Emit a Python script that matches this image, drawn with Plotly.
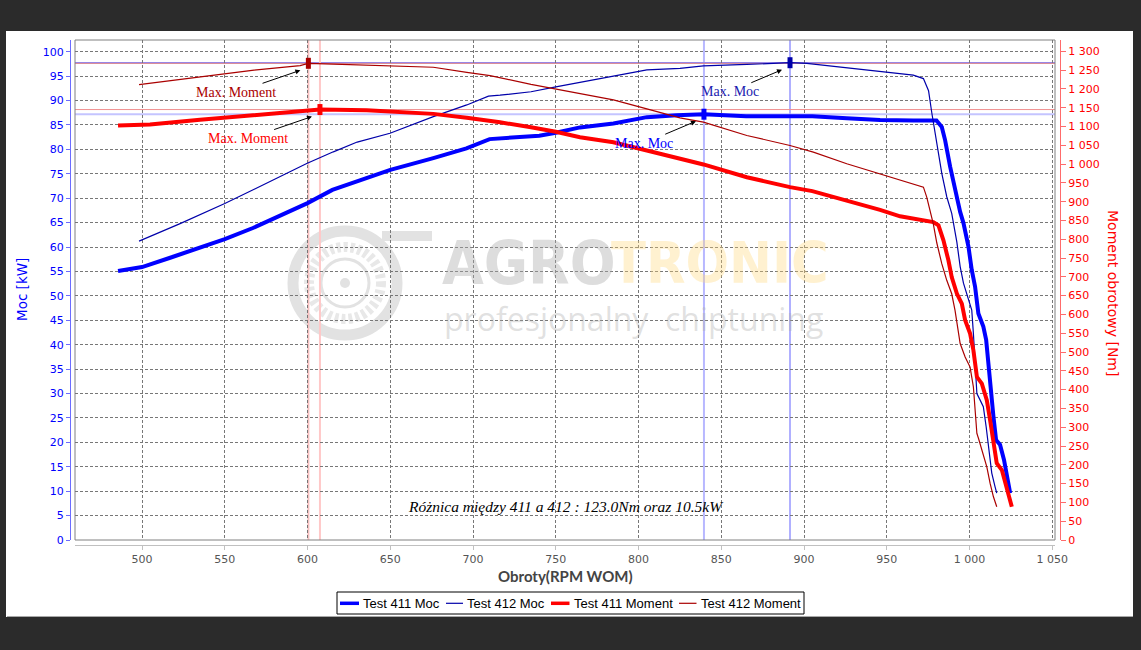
import numpy as np
import plotly.graph_objects as go

# ---------------- data ----------------
rpm_411_moc = [485.5, 500, 517, 535, 550, 567, 585, 600, 615, 633, 650, 676, 696, 710, 720, 740, 750,
               764.6, 784.8, 805, 823, 839.5, 865, 891.5, 905, 925.8, 945.9, 966, 980, 983.2, 985.2,
               988.2, 991.2, 994.3, 996.3, 999.3, 1001.3, 1003.3, 1005.3, 1008.3, 1010, 1011.4, 1012.8,
               1014.4, 1016, 1018.4, 1020.8, 1022.5, 1024.5]
kw_411 = [55.1, 55.9, 57.8, 59.8, 61.6, 63.9, 66.8, 69.0, 71.7, 73.9, 75.8, 78.2, 80.2, 82.1, 82.3, 82.8, 83.4,
          84.5, 85.3, 86.6, 87.0, 87.2, 86.8, 86.7, 86.8, 86.4, 86.0, 85.9, 85.9, 84.6, 81.9,
          76.5, 71.5, 67.2, 64.9, 60.1, 55.3, 51.9, 46.4, 43.7, 41.0, 35.5, 30.0,
          25.3, 20.5, 19.5, 16.4, 13.0, 9.6]

rpm_412_moc = [498.2, 523, 550, 567, 599.5, 615.6, 630, 649.8, 676, 696.2, 709.3, 716.3, 735, 750, 764.6,
               784.8, 800.9, 805, 825, 839.2, 865.4, 891.5, 901.6, 915.7, 941.9, 966, 972.1, 975.2, 977.2,
               979.2, 981.2, 983.2, 986.2, 989.2, 992.3, 994.3, 996.3, 999.3, 1001.3, 1002.3, 1003.3,
               1004.4, 1006.3, 1008.3, 1010, 1012, 1013.4, 1015.4, 1016.4]
kw_412 = [61.2, 64.8, 68.9, 71.7, 77.1, 79.5, 81.5, 83.3, 86.7, 89.1, 90.9, 91.1, 91.8, 92.8, 93.7,
          95.0, 95.9, 96.3, 96.6, 97.1, 97.4, 97.75, 97.6, 97.1, 96.1, 95.2, 94.5, 92.0, 87.4,
          83.3, 79.2, 75.1, 70.3, 66.9, 61.0, 56.0, 52.6, 49.1, 47.1, 42.3, 35.5,
          30.0, 28.7, 27.3, 23.2, 17.8, 13.7, 10.9, 9.6]

rpm_411_mom = [485.5, 504.8, 535, 565.3, 595.5, 607.5, 635.8, 650, 676, 696.2, 710.3, 716.3, 735, 750,
               764.6, 784.8, 805, 825, 839.2, 865.4, 891.5, 905, 925.8, 945.9, 958, 978.1, 981.2, 984.2,
               987.2, 989.2, 992.3, 995.3, 997.3, 1000.3, 1002.3, 1004.4, 1007.4, 1010.4, 1012.4, 1014.4,
               1016.4, 1019.5, 1021.5, 1023.5, 1025.5]
nm_411 = [1102.5, 1105, 1117.7, 1129, 1138, 1145, 1143, 1139.7, 1133.5, 1123, 1115.8, 1111, 1098, 1086,
          1071.5, 1058, 1036, 1014, 999, 965, 938.6, 928, 903, 878, 861, 845.7, 836.9, 797,
          744, 699.5, 655.4, 628.9, 584.5, 549, 504.8, 434, 416, 372, 318.8, 257,
          204, 186, 150.6, 124, 88.5]

rpm_412_mom = [498.2, 535, 565.3, 595.5, 600.5, 615.6, 650, 676, 696.2, 710.3, 735, 750, 764.6, 784.8,
               805, 825, 839.2, 865.4, 891.5, 905.6, 925.8, 945.9, 966, 972.1, 974.1, 976.1, 978.1,
               980.2, 983.2, 986.2, 989.2, 991.2, 994.3, 997.3, 1000.3, 1002.3, 1003.3, 1004.4, 1005.4,
               1008.3, 1010.4, 1012.4, 1014.4, 1016.4]
nm_412 = [1211.5, 1232.7, 1248.7, 1262, 1268, 1266, 1262, 1257.5, 1244, 1235.4, 1212, 1200, 1186.7, 1170.8,
          1147, 1123, 1111.5, 1076, 1049.4, 1031.6, 1000.8, 974, 947.7, 938.6, 912, 875, 840,
          790, 735, 690.8, 655, 611, 522.6, 487, 460, 407, 336.6, 283.5, 270,
          230, 194.7, 150.6, 115, 88.5]

series_names = ["Test 411 Moc", "Test 412 Moc", "Test 411 Moment", "Test 412 Moment"]
diff_label = "Różnica między 411 a 412 : 123.0Nm oraz 10.5kW"
x_title = "Obroty(RPM WOM)"
y_title = "Moc [kW]"
y2_title = "Moment obrotowy [Nm]"
max_label_moc = "Max. Moc"
max_label_mom = "Max. Moment"
wm_1, wm_2, wm_3 = "AGRO", "TRONIC", "profesjonalny  chiptuning"

# ---------------- geometry helpers (page pixels -> paper) ----------------
W, H = 1141, 650
PL, PR, PT, PB = 70, 1060, 40, 545      # paper box in page pixels


def px(x):
    return (x - PL) / (PR - PL)


def py(y):
    return (PB - y) / (PB - PT)


styles = [("#0000FF", 4, "y"), ("#0000AA", 1.2, "y"), ("#FF0000", 4, "y2"), ("#AA0000", 1.2, "y2")]
xs = [rpm_411_moc, rpm_412_moc, rpm_411_mom, rpm_412_mom]
ys = [kw_411, kw_412, nm_411, nm_412]

fig = go.Figure()
for name, xv, yv, (col, wd, ya) in zip(series_names, xs, ys, styles):
    fig.add_trace(go.Scatter(x=xv, y=yv, name=name, mode="lines", line=dict(color=col, width=wd),
                             yaxis=ya, showlegend=False))

shapes = []
annotations = []
# white panel + bottom edge
shapes.append(dict(type="rect", xref="paper", yref="paper", x0=px(6), x1=px(1133), y0=py(617), y1=py(31),
                   fillcolor="white", line=dict(width=0), layer="below"))
shapes.append(dict(type="line", xref="paper", yref="paper", x0=px(7), x1=px(1133), y0=py(616.5), y1=py(616.5),
                   line=dict(color="#a8a8a8", width=1), layer="below"))

# watermark gear (decoration)
gc = "#e2e2e2"
cx, cy, r = 345, 283, 52
shapes.append(dict(type="circle", xref="paper", yref="paper", x0=px(cx - r), x1=px(cx + r),
                   y0=py(cy + r), y1=py(cy - r), line=dict(color=gc, width=11), layer="below"))
r2 = 36
shapes.append(dict(type="circle", xref="paper", yref="paper", x0=px(cx - r2), x1=px(cx + r2),
                   y0=py(cy + r2), y1=py(cy - r2), line=dict(color="#e8e8e8", width=10, dash="4px,3px"),
                   layer="below"))
r3 = 24
shapes.append(dict(type="circle", xref="paper", yref="paper", x0=px(cx - r3), x1=px(cx + r3),
                   y0=py(cy + r3), y1=py(cy - r3), line=dict(color=gc, width=3), layer="below"))
r4 = 5
shapes.append(dict(type="circle", xref="paper", yref="paper", x0=px(cx - r4), x1=px(cx + r4),
                   y0=py(cy + r4), y1=py(cy - r4), fillcolor=gc, line=dict(width=0), layer="below"))
shapes.append(dict(type="rect", xref="paper", yref="paper", x0=px(382), x1=px(432), y0=py(241), y1=py(231),
                   fillcolor=gc, line=dict(width=0), layer="below"))

# max value guides
i411m = int(np.argmax(kw_411)); i412m = int(np.argmax(kw_412))
i411t = int(np.argmax(nm_411)); i412t = int(np.argmax(nm_412))
maxes = [
    # (x, y, yref, hline colour, hline width, vline colour, marker colour, text colour, label)
    (rpm_411_moc[i411m], kw_411[i411m], "y", "#c4c4ff", 2, "#b8b8ff", "#0000FF", "#0000FF", max_label_moc),
    (rpm_412_moc[i412m], kw_412[i412m], "y", "#8888ff", 1.5, "#b0b0ff", "#0000AA", "#1a1ab0", max_label_moc),
    (rpm_411_mom[i411t], nm_411[i411t], "y2", "#f09090", 1, "#ffc8c8", "#FF0000", "#FF0000", max_label_mom),
    (rpm_412_mom[i412t], nm_412[i412t], "y2", "#e08080", 1, "#f6c0c0", "#AA0000", "#AA0000", max_label_mom),
]
for (mx, my, yr, hc, hw, vc, mc, tc, lab) in maxes:
    shapes.append(dict(type="line", xref="paper", yref=yr, x0=px(75), x1=px(1055), y0=my, y1=my,
                       line=dict(color=hc, width=hw), layer="below"))
    shapes.append(dict(type="line", xref="x", yref="paper", x0=mx, x1=mx, y0=py(540), y1=1,
                       line=dict(color=vc, width=2), layer="below"))
for (mx, my, yr, hc, hw, vc, mc, tc, lab) in maxes:
    shapes.append(dict(type="rect", xref="x", yref=yr, xsizemode="pixel", ysizemode="pixel",
                       xanchor=mx, yanchor=my, x0=-2.5, x1=2.5, y0=-5.5, y1=5.5,
                       fillcolor=mc, line=dict(width=0), layer="above"))
    off = -52 if lab == max_label_moc else -64
    annotations.append(dict(x=mx, y=my, xref="x", yref=yr, xshift=-8, yshift=-7, text=lab,
                            showarrow=True, ax=off, ay=22, arrowhead=2, arrowsize=1, arrowwidth=1,
                            arrowcolor="black", standoff=0,
                            font=dict(family="Liberation Serif", size=14, color=tc)))

# plot border
shapes.append(dict(type="rect", xref="paper", yref="paper", x0=px(75), x1=px(1055), y0=py(540), y1=1,
                   line=dict(color="#808080", width=1), layer="below"))

# watermark texts
wm_font = "DejaVu Sans Condensed, Liberation Sans Narrow, Roboto"
annotations.append(dict(xref="paper", yref="paper", x=px(440), y=py(263), xanchor="left", yanchor="middle",
                        text="<b>" + wm_1 + "</b>", showarrow=False,
                        font=dict(family=wm_font, size=60, color="rgba(170,170,170,0.40)")))
annotations.append(dict(xref="paper", yref="paper", x=px(609), y=py(263), xanchor="left", yanchor="middle",
                        text="<b>" + wm_2 + "</b>", showarrow=False,
                        font=dict(family=wm_font, size=57, color="rgba(255,215,120,0.35)")))
annotations.append(dict(xref="paper", yref="paper", x=px(633), y=py(318), xanchor="center", yanchor="middle",
                        text=wm_3, showarrow=False,
                        font=dict(family="Open Sans", size=32, color="rgba(170,170,170,0.36)")))

# texts
annotations.append(dict(xref="paper", yref="paper", x=px(566), y=py(506), xanchor="center", yanchor="middle",
                        text="<i>" + diff_label + "</i>",
                        showarrow=False, font=dict(family="Liberation Serif", size=15.5, color="black")))
annotations.append(dict(xref="paper", yref="paper", x=px(565), y=py(576), xanchor="center", yanchor="middle",
                        text="<b>" + x_title + "</b>",
                        showarrow=False, font=dict(family="Lato", size=15, color="#444444")))
annotations.append(dict(xref="paper", yref="paper", x=px(22), y=py(290), xanchor="center", yanchor="middle",
                        text=y_title, textangle=-90,
                        showarrow=False, font=dict(family="DejaVu Sans", size=13.5, color="#0000FF")))
annotations.append(dict(xref="paper", yref="paper", x=px(1113), y=py(293), xanchor="center", yanchor="middle",
                        text=y2_title, textangle=90,
                        showarrow=False, font=dict(family="DejaVu Sans", size=14, color="#FF0000")))

# legend box (entries taken from the trace names / styles)
shapes.append(dict(type="rect", xref="paper", yref="paper", x0=px(337), x1=px(804), y0=py(614), y1=py(592),
                   fillcolor="white", line=dict(color="black", width=1), layer="above"))
leg_sample_x = [340, 446, 551, 679]
leg_sample_w = [19, 17, 18.5, 17.5]
leg_y = 603.3
for name, (col, wd, ya), sx, sw in zip(series_names, styles, leg_sample_x, leg_sample_w):
    shapes.append(dict(type="line", xref="paper", yref="paper", x0=px(sx), x1=px(sx + sw),
                       y0=py(leg_y), y1=py(leg_y), line=dict(color=col, width=min(wd, 3.5)), layer="above"))
    annotations.append(dict(xref="paper", yref="paper", x=px(sx + sw + 2), y=py(leg_y), xanchor="left",
                            yanchor="middle", text=name, showarrow=False,
                            font=dict(family="Liberation Sans", size=13, color="black")))

grid = dict(showgrid=True, gridcolor="#777777", gridwidth=1, griddash="3px,2px")
fig.update_layout(
    width=W, height=H,
    margin=dict(l=PL, r=W - PR, t=PT, b=H - PB, pad=0),
    paper_bgcolor="#2b2b2b", plot_bgcolor="white",
    separators=". ",
    showlegend=False,
    hovermode=False,
    xaxis=dict(domain=[px(75), px(1055)], range=[459.5, 1051.6], anchor="free", position=0,
               tick0=500, dtick=50, tickformat=",d", zeroline=False,
               showline=True, linecolor="#c0c0c0", linewidth=1, ticks="outside", ticklen=4,
               tickcolor="#c0c0c0", tickfont=dict(family="DejaVu Sans", size=11, color="#555555"), **grid),
    yaxis=dict(domain=[py(540), 1], range=[0, 102.4], anchor="free", position=0, side="left",
               tick0=0, dtick=5, zeroline=False, showline=True, linecolor="#6b6bff", linewidth=1,
               ticks="outside", ticklen=4, tickcolor="#6b6bff",
               tickfont=dict(family="DejaVu Sans", size=11, color="#0000FF"), **grid),
    yaxis2=dict(overlaying="y", side="right", anchor="free", position=1, range=[0, 1330],
                tick0=0, dtick=50, tickformat=",d", showgrid=False, zeroline=False,
                showline=True, linecolor="#ff6b6b", linewidth=1, ticks="outside", ticklen=5,
                tickcolor="#ff6b6b", tickfont=dict(family="DejaVu Sans", size=11, color="#FF0000")),
    shapes=shapes,
    annotations=annotations,
)

fig.write_html("out.html", config={"displayModeBar": False},
               post_script="document.body.style.margin='0px';document.body.style.overflow='hidden';")
